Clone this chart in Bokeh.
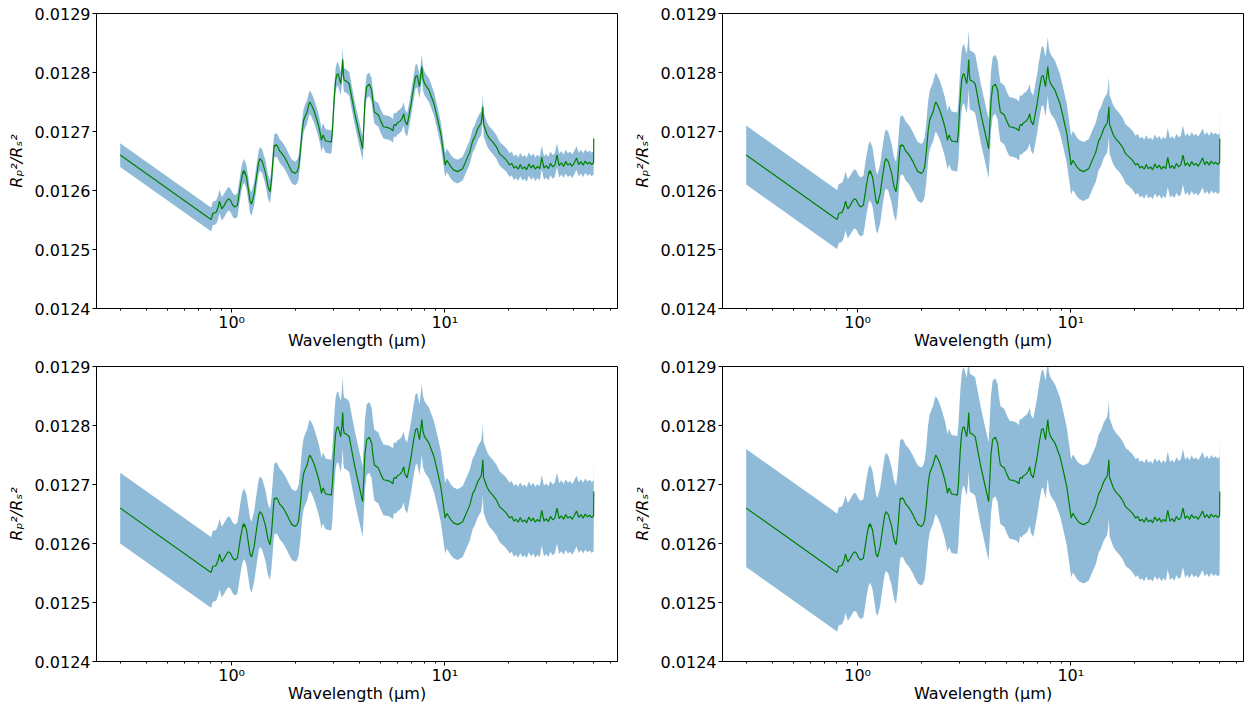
import numpy as np
from bokeh.plotting import figure
from bokeh.layouts import column, row
from bokeh.models import FixedTicker, PrintfTickFormatter
from bokeh.embed import file_html
from bokeh.resources import INLINE

# ---- data ----
wavelength = [
    0.30, 0.80, 0.805, 0.815, 0.846, 0.865, 0.877, 0.89, 0.90, 0.92, 0.943, 0.965, 0.986,
    1.01, 1.033, 1.064, 1.085, 1.103, 1.125, 1.135, 1.14, 1.144, 1.155, 1.174, 1.20, 1.22,
    1.24, 1.276, 1.31, 1.34, 1.358, 1.393, 1.444, 1.48, 1.514, 1.54, 1.57, 1.585, 1.60,
    1.62, 1.646, 1.68, 1.72, 1.76, 1.816, 1.86, 1.917, 1.989, 2.03, 2.063, 2.10, 2.14,
    2.178, 2.22, 2.259, 2.30, 2.326, 2.37, 2.43, 2.50, 2.565, 2.61, 2.64, 2.67, 2.69,
    2.72, 2.76, 2.85, 2.935, 2.97, 3.00, 3.04, 3.077, 3.115, 3.155, 3.20, 3.25, 3.29,
    3.32, 3.345, 3.37, 3.43, 3.494, 3.56, 3.65, 3.786, 3.95, 4.117, 4.17, 4.22, 4.30,
    4.426, 4.54, 4.60, 4.675, 4.88, 5.0, 5.157, 5.35, 5.55, 5.71, 5.76, 5.82, 5.90, 5.97,
    6.186, 6.30, 6.417, 6.50, 6.66, 6.80, 6.95, 7.12, 7.29, 7.42, 7.52, 7.61, 7.70, 7.80,
    7.90, 8.04, 8.43, 8.90, 9.20, 9.57, 9.85, 10.04, 10.22, 10.40, 10.68, 11.0, 11.48,
    12.13, 12.81, 13.1, 13.53, 13.8, 14.29, 14.55, 14.81, 15.0, 15.09, 15.2, 15.35, 15.8,
    16.22, 16.8, 17.45, 18.1, 18.77, 19.4, 20.17, 20.6, 21.1, 21.6, 22.1, 22.6, 23.1,
    23.7, 24.2, 24.8, 25.4, 26.0, 26.6, 27.2, 27.9, 28.5, 29.2, 29.9, 30.6, 31.3, 32.1,
    32.8, 33.6, 34.4, 35.2, 36.1, 36.9, 37.8, 38.7, 39.6, 40.6, 41.5, 42.5, 43.5, 44.6,
    45.6, 46.7, 47.8, 48.9, 49.9, 50.0,
]
transit_depth = [
    0.012660, 0.012551, 0.012553, 0.012561, 0.012563, 0.012572, 0.012582, 0.012574,
    0.012569, 0.012574, 0.012581, 0.012586, 0.012584, 0.012576, 0.012572, 0.012575,
    0.012595, 0.012612, 0.012628, 0.012633, 0.012628, 0.012634, 0.012630, 0.012623,
    0.012600, 0.012582, 0.012577, 0.012595, 0.012625, 0.012648, 0.012654, 0.012649,
    0.012629, 0.012607, 0.012598, 0.012620, 0.012660, 0.012677, 0.012675, 0.012678,
    0.012674, 0.012667, 0.012663, 0.012658, 0.012649, 0.012641, 0.012632, 0.012629,
    0.012632, 0.012640, 0.012665, 0.012700, 0.012719, 0.012727, 0.012733, 0.012745,
    0.012750, 0.012745, 0.012736, 0.012722, 0.012708, 0.012695, 0.012685, 0.012692,
    0.012694, 0.012689, 0.012684, 0.012683, 0.012682, 0.012700, 0.012730, 0.012765,
    0.012787, 0.012796, 0.012798, 0.012790, 0.012781, 0.012800, 0.012822, 0.012795,
    0.012787, 0.012786, 0.012784, 0.012781, 0.012760, 0.012730, 0.012700, 0.012671,
    0.012710, 0.012750, 0.012776, 0.012780, 0.012770, 0.012750, 0.012733, 0.012728,
    0.012718, 0.012708, 0.012707, 0.012705, 0.012701, 0.012710, 0.012712, 0.012710,
    0.012714, 0.012718, 0.012722, 0.012730, 0.012718, 0.012711, 0.012728, 0.012747,
    0.012772, 0.012793, 0.012795, 0.012785, 0.012776, 0.012792, 0.012810, 0.012790,
    0.012781, 0.012770, 0.012747, 0.012725, 0.012697, 0.012665, 0.012643, 0.012651,
    0.012647, 0.012640, 0.012635, 0.012632, 0.012637, 0.012657, 0.012665, 0.012685,
    0.012690, 0.012705, 0.012710, 0.012714, 0.012730, 0.012742, 0.012712, 0.012708,
    0.012695, 0.012688, 0.012682, 0.012674, 0.012662, 0.012657, 0.012652, 0.012643,
    0.012646, 0.012638, 0.012641, 0.012636, 0.012644, 0.012637, 0.012640, 0.012635,
    0.012645, 0.012638, 0.012643, 0.012636, 0.012641, 0.012637, 0.012656, 0.012638,
    0.012642, 0.012637, 0.012646, 0.012640, 0.012643, 0.012660, 0.012642, 0.012647,
    0.012641, 0.012649, 0.012643, 0.012646, 0.012641, 0.012648, 0.012655, 0.012644,
    0.012649, 0.012643, 0.012650, 0.012645, 0.012648, 0.012644, 0.012647, 0.012688,
]
# half-width of the shaded uncertainty band, one per panel
band_halfwidth = [0.00002, 0.00005, 0.00006, 0.00010]

x_major_ticks = [1, 10]
x_minor_ticks = [0.3, 0.4, 0.5, 0.6, 0.7, 0.8, 0.9, 2, 3, 4, 5, 6, 7, 8, 9,
                 20, 30, 40, 50, 60]
x_tick_labels = {1: "10⁰", 10: "10¹"}
y_ticks = [0.0124, 0.0125, 0.0126, 0.0127, 0.0128, 0.0129]

FONT = "DejaVu Sans"
wl = np.array(wavelength)
depth = np.array(transit_depth)


def make_panel(sigma, width, height, right_border):
    p = figure(width=width, height=height, x_axis_type="log",
               x_range=(0.2323, 64.6), y_range=(0.0124, 0.0129),
               output_backend="svg", toolbar_location=None,
               min_border_left=96, min_border_right=right_border,
               min_border_top=13, min_border_bottom=45)
    p.varea(x=wl, y1=depth - sigma, y2=depth + sigma,
            fill_color="#1f77b4", fill_alpha=0.5)
    p.line(wl, depth, line_color="#008000", line_width=1.2)

    p.grid.grid_line_color = None
    p.outline_line_color = "black"
    p.outline_line_alpha = 1
    p.outline_line_width = 1
    p.background_fill_color = "white"

    p.xaxis.ticker = FixedTicker(ticks=x_major_ticks, minor_ticks=x_minor_ticks)
    p.xaxis.major_label_overrides = x_tick_labels
    p.yaxis.ticker = FixedTicker(ticks=y_ticks)
    p.yaxis.formatter = PrintfTickFormatter(format="%.4f")

    for ax in (p.xaxis[0], p.yaxis[0]):
        ax.axis_line_color = "black"
        ax.major_tick_line_color = "black"
        ax.minor_tick_line_color = "black"
        ax.major_tick_in = 0
        ax.major_tick_out = 4
        ax.minor_tick_in = 0
        ax.major_label_text_font = FONT
        ax.major_label_text_font_size = "16px"
        ax.major_label_text_color = "black"
        ax.axis_label_text_font = FONT
        ax.axis_label_text_font_size = "16px"
        ax.axis_label_text_color = "black"
    p.xaxis.minor_tick_out = 2
    p.yaxis.minor_tick_out = 0
    p.xaxis.major_label_standoff = 0
    p.xaxis.axis_label_standoff = -4
    p.yaxis.major_label_standoff = 2
    p.yaxis.axis_label_standoff = 6

    p.xaxis.axis_label = "Wavelength (μm)"
    p.xaxis.axis_label_text_font_style = "normal"
    p.yaxis.axis_label = "Rₚ²/Rₛ²"
    p.yaxis.axis_label_text_font_style = "italic"
    return p


p1 = make_panel(band_halfwidth[0], 626, 353, 9)
p2 = make_panel(band_halfwidth[1], 618, 353, 1)
p3 = make_panel(band_halfwidth[2], 626, 353, 9)
p4 = make_panel(band_halfwidth[3], 618, 353, 1)

layout = column(row(p1, p2), row(p3, p4))
open("out.html", "w").write(file_html(layout, INLINE))
